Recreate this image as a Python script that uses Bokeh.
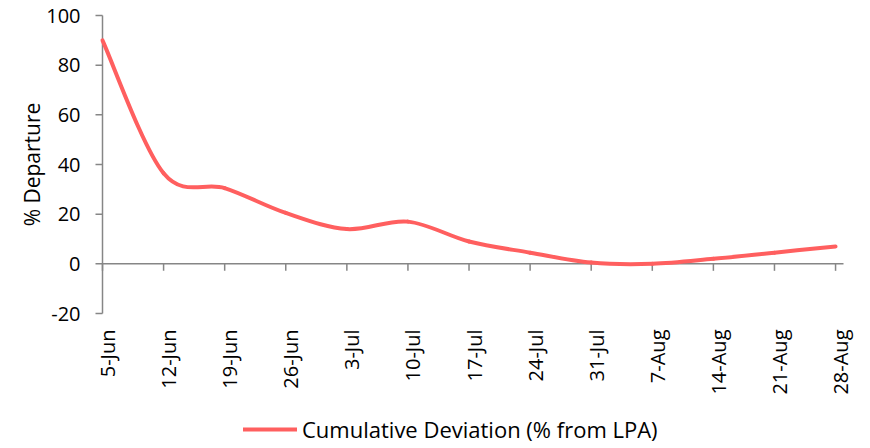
import numpy as np
from math import pi
from bokeh.plotting import figure
from bokeh.models import Range1d, Legend, LegendItem, ColumnDataSource
from bokeh.core.properties import value
from bokeh.embed import file_html
from bokeh.resources import INLINE

# ---- data ----
categories = ["5-Jun", "12-Jun", "19-Jun", "26-Jun", "3-Jul", "10-Jul", "17-Jul",
              "24-Jul", "31-Jul", "7-Aug", "14-Aug", "21-Aug", "28-Aug"]
deviation = [90, 36.5, 30.5, 20.5, 14, 17, 9, 4.5, 0.5, 0, 2, 4.5, 7]
y_ticks = [-20, 0, 20, 40, 60, 80, 100]
y_tick_labels = ["-20", "0", "20", "40", "60", "80", "100"]
y_axis_title = "% Departure"
series_name = "Cumulative Deviation (% from LPA)"

FONT = "Open Sans"
TICK_FS = "20px"
LABEL_FS = "21px"
LEGEND_FS = "22px"
LINE_COLOR = "#FF5F5F"
AXIS_COLOR = "#868686"

n = len(categories)
xs = np.arange(n, dtype=float)
ys = np.array(deviation, dtype=float)

# smooth (Catmull-Rom style) bezier segments through the data points
xp = np.concatenate([[xs[0]], xs, [xs[-1]]])
yp = np.concatenate([[ys[0]], ys, [ys[-1]]])
x0, y0 = xs[:-1], ys[:-1]
x1, y1 = xs[1:], ys[1:]
cx0 = x0 + (xp[2:-1] - xp[0:-3]) / 6.0
cy0 = y0 + (yp[2:-1] - yp[0:-3]) / 6.0
cx1 = x1 - (xp[3:] - xp[1:-2]) / 6.0
cy1 = y1 - (yp[3:] - yp[1:-2]) / 6.0
src = ColumnDataSource(dict(x0=x0, y0=y0, x1=x1, y1=y1,
                            cx0=cx0, cy0=cy0, cx1=cx1, cy1=cy1))

# layout (pixels): canvas 870 x 448, plot band 102..843 x 15..313
W, H = 870, 448
PL, PT, PR, PB = 102, 15, 843, 313
x_span = 12.13                      # category axis extends a little past last tick
px_per_ux = (PR - PL) / x_span
y_min, y_max = y_ticks[0], y_ticks[-1]
u_per_py = (y_max - y_min) / (PB - PT)

x_range = Range1d(-PL / px_per_ux, x_span + (W - PR) / px_per_ux)
y_range = Range1d(y_min - (H - PB) * u_per_py, y_max + PT * u_per_py)

p = figure(output_backend="svg", toolbar_location=None,
           x_range=x_range, y_range=y_range,
           frame_width=W, frame_height=H,
           min_border=0, x_axis_location=None, y_axis_location=None)
p.outline_line_color = None
p.xgrid.visible = False
p.ygrid.visible = False
p.background_fill_color = "white"
p.border_fill_color = "white"

# vertical axis: line, outward ticks, labels, title
p.segment(x0=[0], y0=[y_min], x1=[0], y1=[y_max], line_color=AXIS_COLOR, line_width=1.5)
p.segment(x0=np.zeros(len(y_ticks)), y0=y_ticks, x1=np.full(len(y_ticks), -7 / px_per_ux),
          y1=y_ticks, line_color=AXIS_COLOR, line_width=1.5)
p.text(x=np.zeros(len(y_ticks)), y=y_ticks, text=y_tick_labels, x_offset=-22,
       text_align="right", text_baseline="middle",
       text_font=value(FONT), text_font_size=value(TICK_FS), text_color="black")
p.text(x=[0], y=[(y_min + y_max) / 2], text=[y_axis_title], x_offset=-71, angle=pi / 2,
       text_align="center", text_baseline="middle",
       text_font=value(FONT), text_font_size=value(LABEL_FS), text_color="black")

# horizontal axis line at zero with tick marks hanging below it
p.segment(x0=[0], y0=[0], x1=[x_span], y1=[0], line_color=AXIS_COLOR, line_width=1.5)
p.segment(x0=xs, y0=np.zeros(n), x1=xs, y1=np.full(n, -7 * u_per_py),
          line_color=AXIS_COLOR, line_width=1.5)

# category labels, rotated, below the plot band
p.text(x=xs, y=np.full(n, float(y_min)), text=categories, angle=pi / 2,
       x_offset=5, y_offset=16, text_align="right", text_baseline="middle",
       text_font=value(FONT), text_font_size=value(TICK_FS), text_color="black")

r = p.bezier(x0="x0", y0="y0", x1="x1", y1="y1", cx0="cx0", cy0="cy0",
             cx1="cx1", cy1="cy1", source=src, line_color=LINE_COLOR,
             line_width=4, line_cap="round")

legend = Legend(items=[LegendItem(label=series_name, renderers=[r])],
                location=(243, 4), orientation="horizontal",
                glyph_width=54, glyph_height=16, label_height=16, label_standoff=5,
                padding=0, margin=0, spacing=0,
                border_line_color=None, background_fill_alpha=0,
                label_text_font=FONT, label_text_font_size=LEGEND_FS,
                label_text_color="black")
p.add_layout(legend, "center")

open("out.html", "w").write(file_html(p, INLINE))
